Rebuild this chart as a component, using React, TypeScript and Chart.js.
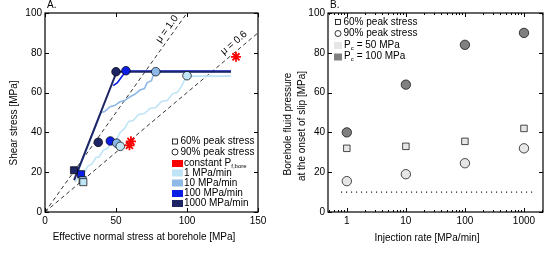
import React, { useEffect, useRef } from 'react';
import { Chart, registerables } from 'chart.js';
Chart.register(...registerables);

const FONT = '"Liberation Sans", Arial, Helvetica, sans-serif';

// ---------- Panel A data (effective normal stress, shear stress) ----------
const muOneLine = [[0, 0], [100, 100]];
const muSixLine = [[0, 0], [150, 90]];
const path1000 = [[20.5, 16], [50.5, 70.5], [131, 70.5]];
const path100 = [[48, 63.5], [51, 65], [53, 67], [57, 70.8], [131, 70.8]];
const path10 = [[23, 20], [39.5, 50], [42, 50.5], [45.8, 52.9], [49, 53.5], [52.8, 55.4], [56, 56], [59.9, 57.9], [63, 59], [66.9, 61.3], [70, 62], [72, 65], [75, 66], [77, 70.5], [131, 70.5]];
const path1 = [[21, 15], [25, 19], [27, 18.5], [30, 23], [33, 24], [36, 27.5], [38, 27.5], [41, 31], [44, 32], [47, 35.5], [50, 36], [53, 40], [56, 42], [59, 45.5], [62, 46], [66, 49], [70, 49.5], [74, 52], [78, 52.5], [82, 55.5], [86, 56], [90, 59.5], [93, 60], [96, 63], [98, 66], [100, 68.3], [131, 68.3]];
// markers: order navy, blue, medium, light
const squaresSigma = [20.4, 25.4, 26.5, 27];
const squaresTau = [21, 19, 16, 15];
const circlesSigma = [37.5, 46, 50.5, 53, 50, 57, 78, 100];
const circlesTau = [35, 35.7, 34.6, 33, 70.5, 71, 70.5, 68.5];
const starsSigma = [59.5, 60.5, 134.5];
const starsTau = [33.5, 35.5, 78];

const NAVY = '#1d2565';
const BLUE = '#0b1fe4';
const MED = '#8db9e8';
const LIGHT = '#bfe4f6';
const RED = '#ff0000';
const markerColors = [NAVY, BLUE, MED, LIGHT];

// ---------- Panel B data ----------
const rates = [1, 10, 100, 1000];
const pc100Peak90 = [40, 64, 84, 90];
const pc50Peak60 = [32, 33, 35.5, 42];
const pc50Peak90 = [15.5, 19, 24.5, 32];
const refPressure = 10;
const refRange = [0.8, 1500];
const GRAY_DARK = '#808080';
const GRAY_LIGHT = '#e6e6e6';

const pts = (arr: number[][]) => arr.map(([x, y]) => ({ x, y }));
const zip = (xs: number[], ys: number[]) => xs.map((x, i) => ({ x, y: ys[i] }));

function drawFrame(chart: any, xMajor: number[], yMajor: number[], xMinor: number[]) {
  const { ctx, chartArea: a, scales } = chart;
  const xs = scales.x, ys = scales.y;
  ctx.save();
  ctx.strokeStyle = '#000';
  ctx.lineWidth = 1.2;
  ctx.strokeRect(a.left, a.top, a.right - a.left, a.bottom - a.top);
  ctx.lineWidth = 1;
  ctx.beginPath();
  const L = 4;
  xMajor.forEach((v) => {
    const p = Math.round(xs.getPixelForValue(v)) + 0.5;
    ctx.moveTo(p, a.bottom); ctx.lineTo(p, a.bottom - L);
    ctx.moveTo(p, a.top); ctx.lineTo(p, a.top + L);
  });
  xMinor.forEach((v) => {
    const p = Math.round(xs.getPixelForValue(v)) + 0.5;
    ctx.moveTo(p, a.bottom); ctx.lineTo(p, a.bottom - 2);
    ctx.moveTo(p, a.top); ctx.lineTo(p, a.top + 2);
  });
  yMajor.forEach((v) => {
    const p = Math.round(ys.getPixelForValue(v)) + 0.5;
    ctx.moveTo(a.left, p); ctx.lineTo(a.left + L, p);
    ctx.moveTo(a.right, p); ctx.lineTo(a.right - L, p);
  });
  ctx.stroke();
  ctx.restore();
}

function text(ctx: any, s: string, x: number, y: number, align = 'left', size = 10, rot = 0) {
  ctx.save();
  ctx.translate(x, y);
  ctx.rotate(rot);
  ctx.font = `${size}px ${FONT}`;
  ctx.fillStyle = '#000';
  ctx.textAlign = align;
  ctx.textBaseline = 'middle';
  ctx.fillText(s, 0, 0);
  ctx.restore();
}

function subText(ctx: any, main: string, sub: string, rest: string, x: number, y: number) {
  ctx.save();
  ctx.fillStyle = '#000';
  ctx.textBaseline = 'middle';
  ctx.textAlign = 'left';
  ctx.font = `10px ${FONT}`;
  ctx.fillText(main, x, y);
  let w = ctx.measureText(main).width;
  ctx.font = `6px ${FONT}`;
  ctx.fillText(sub, x + w, y + 3);
  const ws = ctx.measureText(sub).width;
  ctx.font = `10px ${FONT}`;
  if (rest) ctx.fillText(rest, x + w + ws + 3, y);
  ctx.restore();
}

const pluginA = {
  id: 'decorA',
  afterDraw(chart: any) {
    const { ctx, scales } = chart;
    drawFrame(chart, [0, 50, 100, 150], [0, 20, 40, 60, 80, 100], []);
    const xs = scales.x, ys = scales.y;
    const ang1 = Math.atan2(ys.getPixelForValue(100) - ys.getPixelForValue(0), xs.getPixelForValue(100) - xs.getPixelForValue(0));
    const ang2 = Math.atan2(ys.getPixelForValue(90) - ys.getPixelForValue(0), xs.getPixelForValue(150) - xs.getPixelForValue(0));
    text(ctx, '\u03bc = 1.0', xs.getPixelForValue(86), ys.getPixelForValue(92), 'center', 10, ang1);
    text(ctx, '\u03bc = 0.6', xs.getPixelForValue(133), ys.getPixelForValue(85), 'center', 10, ang2);
    // titles
    text(ctx, 'A.', 47, 5, 'left');
    text(ctx, 'Effective normal stress at borehole [MPa]', 144, 237, 'center');
    text(ctx, 'Shear stress [MPa]', 14, 123, 'center', 10, -Math.PI / 2);
    // legend
    ctx.save();
    ctx.strokeStyle = '#000';
    ctx.lineWidth = 0.8;
    ctx.strokeRect(172.5, 139, 5, 5);
    ctx.beginPath();
    ctx.arc(175, 152, 3, 0, Math.PI * 2);
    ctx.stroke();
    ctx.restore();
    text(ctx, '60% peak stress', 180.5, 141.5);
    text(ctx, '90% peak stress', 180.5, 152);
    const rows = [
      [RED, 163.5],
      [LIGHT, 173],
      [MED, 183],
      [BLUE, 193.5],
      [NAVY, 203.5],
    ];
    rows.forEach(([c, y]: any) => {
      ctx.fillStyle = c;
      ctx.fillRect(172, y - 3.5, 11, 7);
    });
    subText(ctx, 'constant P', 'f,bore', '', 184, 163.5);
    text(ctx, '1 MPa/min', 184, 173);
    text(ctx, '10 MPa/min', 184, 183);
    text(ctx, '100 MPa/min', 184, 193.5);
    text(ctx, '1000 MPa/min', 184, 203.5);
  },
};

const minorB: number[] = [];
[0.1, 1, 10, 100, 1000].forEach((d) => {
  for (let k = 2; k <= 9; k++) {
    const v = k * d;
    if (v >= 0.5 && v <= 2100) minorB.push(v);
  }
});

const pluginB = {
  id: 'decorB',
  afterDraw(chart: any) {
    const { ctx } = chart;
    drawFrame(chart, rates, [0, 20, 40, 60, 80, 100], minorB);
    text(ctx, 'B.', 55, 5, 'left');
    text(ctx, 'Injection rate [MPa/min]', 152, 238, 'center');
    text(ctx, 'Borehole fluid pressure', 13, 124, 'center', 10, -Math.PI / 2);
    text(ctx, 'at the onset of slip [MPa]', 27, 126, 'center', 10, -Math.PI / 2);
    ctx.save();
    ctx.strokeStyle = '#000';
    ctx.lineWidth = 0.8;
    ctx.strokeRect(60.5, 19.5, 5, 5);
    ctx.beginPath();
    ctx.arc(63, 33.5, 3, 0, Math.PI * 2);
    ctx.stroke();
    ctx.fillStyle = GRAY_LIGHT;
    ctx.fillRect(59, 42, 8, 7);
    ctx.fillStyle = GRAY_DARK;
    ctx.fillRect(59, 53.5, 8, 7);
    ctx.restore();
    text(ctx, '60% peak stress', 68.5, 22);
    text(ctx, '90% peak stress', 68.5, 33.5);
    subText(ctx, 'P', 'c', '= 50 MPa', 69, 45);
    subText(ctx, 'P', 'c', '= 100 MPa', 69, 56.5);
  },
};

const tickFont = { family: FONT, size: 10 };

function ChartA() {
  const ref = useRef<HTMLCanvasElement>(null);
  useEffect(() => {
    const lineDs = (data: any, color: string, width: number, order: number, dash: number[] = []) => ({
      type: 'scatter', data, showLine: true, borderColor: color, borderWidth: width, borderDash: dash,
      pointRadius: 0, fill: false, tension: 0, order,
    });
    const chart = new Chart(ref.current as any, {
      type: 'scatter',
      data: {
        datasets: [
          lineDs(pts(muOneLine), '#000', 0.8, 6, [4, 3]),
          lineDs(pts(muSixLine), '#000', 0.8, 6, [4, 3]),
          lineDs(pts(path1), LIGHT, 1.6, 5),
          lineDs(pts(path10), MED, 1.6, 4),
          lineDs(pts(path100), BLUE, 1.6, 3),
          lineDs(pts(path1000), NAVY, 2, 2),
          {
            data: zip(squaresSigma, squaresTau), pointStyle: 'rect', pointRadius: 5, pointBackgroundColor: markerColors,
            pointBorderColor: '#000', pointBorderWidth: 0.7, order: 1,
          },
          {
            data: zip(circlesSigma, circlesTau), pointStyle: 'circle', pointRadius: 4.3,
            pointBackgroundColor: [...markerColors, ...markerColors], pointBorderColor: '#000', pointBorderWidth: 0.7, order: 0,
          },
          {
            data: zip(starsSigma, starsTau), pointStyle: 'star', pointRadius: 5, pointBorderColor: RED,
            pointBackgroundColor: RED, pointBorderWidth: 1.8, order: -1,
          },
        ] as any,
      },
      options: {
        responsive: false,
        animation: false,
        devicePixelRatio: 1,
        layout: { padding: { left: 0, top: 13, right: 17, bottom: 0 } },
        plugins: { legend: { display: false }, tooltip: { enabled: false } },
        scales: {
          x: {
            type: 'linear', min: 0, max: 150,
            ticks: { stepSize: 50, font: tickFont, color: '#000', padding: 3, maxRotation: 0 },
            grid: { display: false, drawTicks: false }, border: { display: false },
            afterFit: (s: any) => { s.height = 42; },
          },
          y: {
            type: 'linear', min: 0, max: 100,
            ticks: { stepSize: 20, font: tickFont, color: '#000', padding: 3 },
            grid: { display: false, drawTicks: false }, border: { display: false },
            afterFit: (s: any) => { s.width = 45; },
          },
        },
      } as any,
      plugins: [pluginA],
    });
    return () => chart.destroy();
  }, []);
  return <canvas ref={ref} width={275} height={254} style={{ display: 'block', width: 275, height: 254 }} />;
}

function ChartB() {
  const ref = useRef<HTMLCanvasElement>(null);
  useEffect(() => {
    const chart = new Chart(ref.current as any, {
      type: 'scatter',
      data: {
        datasets: [
          {
            data: [{ x: refRange[0], y: refPressure }, { x: refRange[1], y: refPressure }], showLine: true,
            borderColor: '#000', borderWidth: 1.2, borderDash: [1, 4], pointRadius: 0, order: 5,
          },
          {
            data: zip(rates, pc100Peak90), pointStyle: 'circle', pointRadius: 4.7,
            pointBackgroundColor: GRAY_DARK, pointBorderColor: '#000', pointBorderWidth: 0.7, order: 0,
          },
          {
            data: zip(rates, pc50Peak60), pointStyle: 'rect', pointRadius: 4.6,
            pointBackgroundColor: GRAY_LIGHT, pointBorderColor: '#000', pointBorderWidth: 0.7, order: 1,
          },
          {
            data: zip(rates, pc50Peak90), pointStyle: 'circle', pointRadius: 4.7,
            pointBackgroundColor: GRAY_LIGHT, pointBorderColor: '#000', pointBorderWidth: 0.7, order: 2,
          },
        ] as any,
      },
      options: {
        responsive: false,
        animation: false,
        devicePixelRatio: 1,
        layout: { padding: { left: 0, top: 13, right: 7, bottom: 0 } },
        plugins: { legend: { display: false }, tooltip: { enabled: false } },
        scales: {
          x: {
            type: 'logarithmic', min: 0.48, max: 2100,
            afterBuildTicks: (s: any) => { s.ticks = rates.map((v) => ({ value: v })); },
            ticks: { font: tickFont, color: '#000', padding: 3, maxRotation: 0, autoSkip: false, callback: (v: any) => String(v) },
            grid: { display: false, drawTicks: false }, border: { display: false },
            afterFit: (s: any) => { s.height = 42; },
          },
          y: {
            type: 'linear', min: 0, max: 100,
            ticks: { stepSize: 20, font: tickFont, color: '#000', padding: 3 },
            grid: { display: false, drawTicks: false }, border: { display: false },
            afterFit: (s: any) => { s.width = 53; },
          },
        },
      } as any,
      plugins: [pluginB],
    });
    return () => chart.destroy();
  }, []);
  return <canvas ref={ref} width={275} height={254} style={{ display: 'block', width: 275, height: 254 }} />;
}

export default function App() {
  return (
    <div style={{ position: 'fixed', left: 0, top: 0, width: 550, height: 254, background: '#fff', display: 'flex' }}>
      <ChartA />
      <ChartB />
    </div>
  );
}
